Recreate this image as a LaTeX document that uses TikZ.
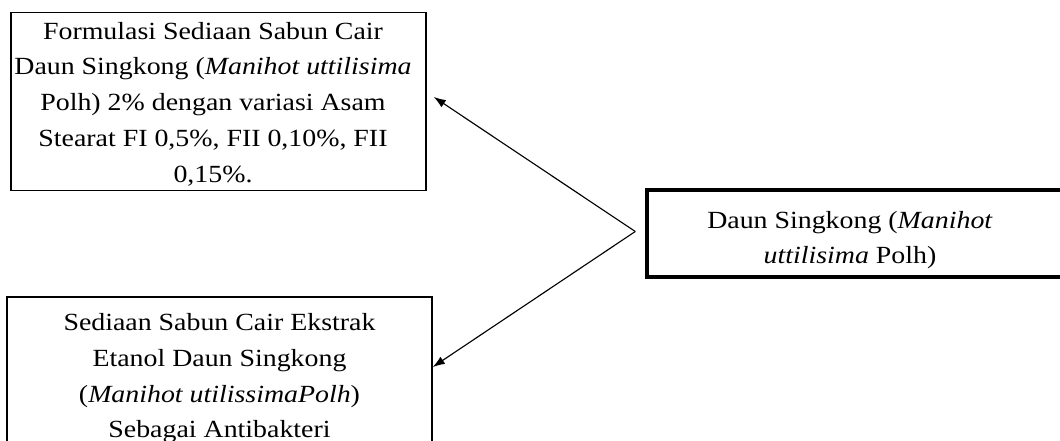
\documentclass[tikz,border=0pt]{standalone}
\usepackage{fontspec}
\setmainfont{Liberation Serif}[FakeStretch=1.13]
\usetikzlibrary{arrows.meta}
\begin{document}
\begin{tikzpicture}[x=0.75pt,y=-0.75pt,
  box/.style={draw, line width=1.2pt, inner sep=0pt},
  thickbox/.style={draw, line width=2.6pt, inner sep=0pt},
  txt/.style={align=center, inner sep=0pt, font=\fontsize{18.5}{26.8}\selectfont},
  conn/.style={line width=0.85pt, -{Latex[length=9pt,width=6.5pt]}}]
\useasboundingbox (0,0) rectangle (1060,441);
\begin{scope}
\clip (0,0) rectangle (1060,441);
\node[box, minimum width=311.25pt, minimum height=133.5pt] (f1) at (218.5,101.5) {};
\node[box, minimum width=318.75pt, minimum height=130.5pt] (f3) at (219.5,384) {};
\node[thickbox, minimum width=324.75pt, minimum height=65.25pt] (src) at (863.5,233.5) {};
\end{scope}
\node[txt] (f1t) at (213,104) {Formulasi Sediaan Sabun Cair\\Daun Singkong (\textit{Manihot uttilisima}\\Polh) 2\% dengan variasi Asam\\Stearat FI 0,5\%, FII 0,10\%, FII\\0,15\%.};
\node[txt] (f3t) at (219.5,378.5) {Sediaan Sabun Cair Ekstrak\\Etanol Daun Singkong\\(\textit{Manihot utilissimaPolh})\\Sebagai Antibakteri};
\node[txt] (srct) at (850,240) {Daun Singkong (\textit{Manihot}\\\textit{uttilisima} Polh)};
\draw[conn] ([shift={(-10,-2)}]src.west) -- ([shift={(7,-4.5)}]f1.east);
\draw[conn] ([shift={(-10,-2)}]src.west) -- ([shift={(0,-17)}]f3.east);
\end{tikzpicture}
\end{document}
